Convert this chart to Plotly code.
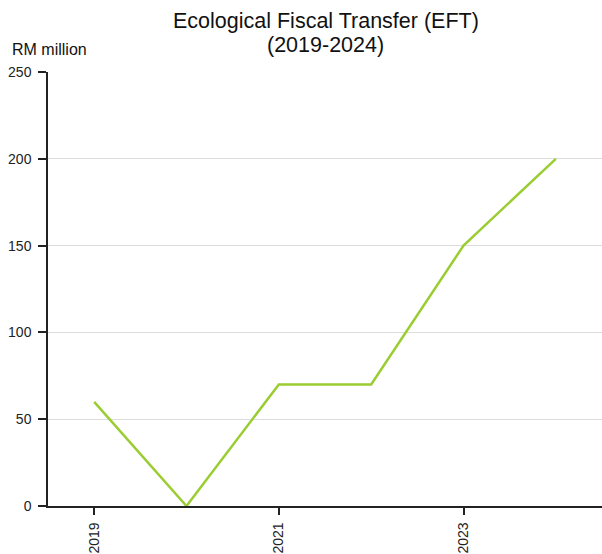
import plotly.graph_objects as go

years = [2019, 2020, 2021, 2022, 2023, 2024]
values = [60, 0, 70, 70, 150, 200]
x_ticks = [2019, 2021, 2023]
y_ticks = [0, 50, 100, 150, 200, 250]
title_lines = ["Ecological Fiscal Transfer (EFT)", "(2019-2024)"]

fig = go.Figure()
fig.add_trace(go.Scatter(x=years, y=values, mode="lines",
                         line=dict(color="#9acd32", width=2.5),
                         showlegend=False, hoverinfo="x+y"))

fig.update_layout(
    width=602, height=554,
    margin=dict(l=48, r=0, t=72, b=48),
    paper_bgcolor="white", plot_bgcolor="white",
    font=dict(family="Liberation Sans, Arial, sans-serif", size=14, color="#222"),
    xaxis=dict(range=[2018.5, 2024.5], tickvals=x_ticks,
               ticktext=[str(v) for v in x_ticks], tickangle=-90,
               showgrid=False, zeroline=False, showline=True,
               linecolor="#222", linewidth=1.5, ticklabelstandoff=2,
               ticks="outside", ticklen=7, tickwidth=2, tickcolor="#222"),
    yaxis=dict(range=[0, 250], tickvals=y_ticks,
               showgrid=True, gridcolor="#dcdcdc", gridwidth=1,
               zeroline=False, showline=True, linecolor="#222", linewidth=1.5,
               ticklabelstandoff=4,
               ticks="outside", ticklen=8, tickwidth=2, tickcolor="#222"),
    annotations=[
        dict(text=title_lines[0], xref="paper", yref="paper", x=0.5018, y=1.1175,
             xanchor="center", yanchor="middle", showarrow=False,
             font=dict(size=21.5, color="#111")),
        dict(text=title_lines[1], xref="paper", yref="paper", x=0.5018, y=1.0622,
             xanchor="center", yanchor="middle", showarrow=False,
             font=dict(size=21.5, color="#111")),
        dict(text="RM million", xref="paper", yref="paper",
             x=-0.0686, y=1.0507, xanchor="left", yanchor="middle",
             showarrow=False, font=dict(size=16, color="#111")),
    ],
)

fig.write_html("out.html")
